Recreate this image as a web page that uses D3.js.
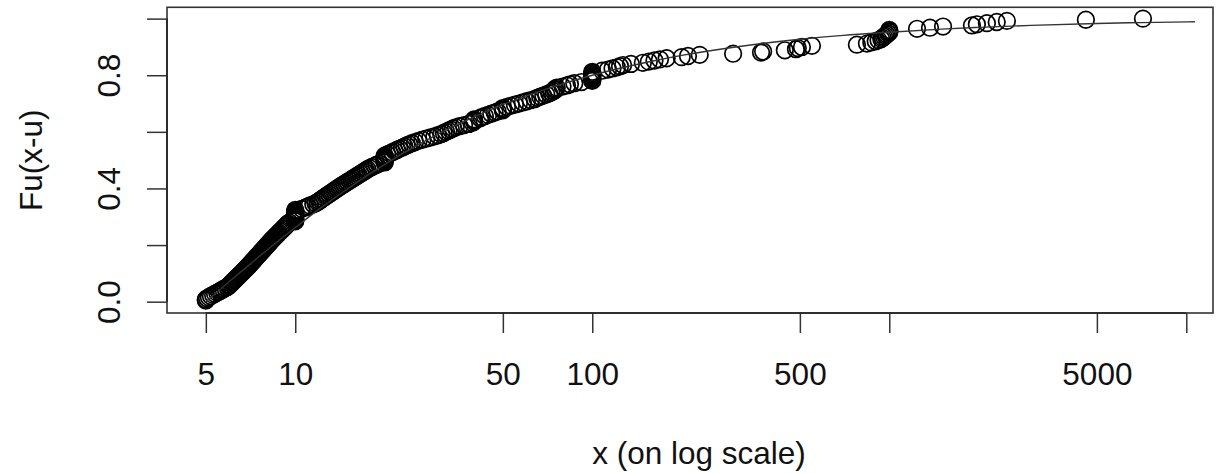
<!DOCTYPE html>
<html><head><meta charset="utf-8">
<script src="https://cdn.jsdelivr.net/npm/d3@7"></script>
<style>
body{margin:0;background:#fff}
svg{display:block}
text{font-family:"Liberation Sans",Arial,Helvetica,sans-serif;}
</style>
</head><body>
<svg id="chart" width="1231" height="473"></svg>
<script>
// empirical points: x values (original scale) and Fu(x-u)
const xValues = [
5,5,5.05,5.12,5.2,5.29,5.37,5.46,5.55,5.63,
5.72,5.81,5.91,5.97,6.02,6.08,6.13,6.18,6.24,6.29,
6.35,6.41,6.46,6.52,6.58,6.64,6.69,6.75,6.81,6.87,
6.93,6.99,7.04,7.1,7.15,7.21,7.27,7.33,7.38,7.44,
7.5,7.56,7.62,7.68,7.74,7.8,7.86,7.93,7.99,8.05,
8.12,8.18,8.24,8.31,8.37,8.45,8.52,8.6,8.67,8.75,
8.82,8.9,8.98,9.06,9.14,9.22,9.3,9.38,9.46,9.55,
10,10,10,10,10,10,10,10,10,10,
10,10.5,10.8,11,11.2,11.5,11.7,11.9,12.04,12.19,
12.35,12.51,12.67,12.83,13,13.17,13.34,13.51,13.68,13.86,
14.04,14.22,14.42,14.63,14.83,15.04,15.25,15.47,15.68,15.91,
16.13,16.36,16.59,16.82,17.06,17.3,17.5,17.8,18.1,18.5,
18.8,19.2,20,20,20,20,20,20,20,20.4,
20.8,21.2,21.6,22,22.4,22.9,23.3,23.7,24.2,24.7,
25.3,26,26.8,27.6,28.5,29.4,30.2,31,31.6,32.2,
32.8,33.4,34,34.7,35.7,37,38.4,39.5,40,40,
40,41.9,42.4,43.5,44.6,45.7,46.9,48,50,50,
50,51.6,53.2,54.9,56.6,58.4,60.2,62.1,64.1,65.3,
66.8,68.4,70,71.6,72.8,74,75,75,75.9,79.4,
82.2,84.1,87,92,100,100,100,100,100,100,
100,100,100,108,113,117,121,124,127,135,
148,155,162,169,178,200,210,230,298,370,
376,445,485,492,508,549,778,841,870,900,
920,940,950,960,970,980,990,1000,1000,1000,
1240,1371,1517,1898,1972,2131,2300,2489,4591,7146
];
const fValues = [
0.004,0.008,0.012,0.016,0.02,0.024,0.028,0.032,0.036,0.04,
0.044,0.048,0.052,0.056,0.06,0.064,0.068,0.072,0.076,0.08,
0.084,0.088,0.092,0.096,0.1,0.104,0.108,0.112,0.116,0.12,
0.124,0.128,0.132,0.136,0.14,0.144,0.148,0.152,0.156,0.16,
0.164,0.168,0.172,0.176,0.18,0.184,0.188,0.192,0.196,0.2,
0.204,0.208,0.212,0.216,0.22,0.224,0.228,0.232,0.236,0.24,
0.244,0.248,0.252,0.256,0.26,0.264,0.268,0.272,0.276,0.28,
0.284,0.288,0.292,0.296,0.3,0.304,0.308,0.312,0.316,0.32,
0.324,0.328,0.332,0.336,0.34,0.344,0.348,0.352,0.356,0.36,
0.364,0.368,0.372,0.376,0.38,0.384,0.388,0.392,0.396,0.4,
0.404,0.408,0.412,0.416,0.42,0.424,0.428,0.432,0.436,0.44,
0.444,0.448,0.452,0.456,0.46,0.464,0.468,0.472,0.476,0.48,
0.484,0.488,0.492,0.496,0.5,0.504,0.508,0.512,0.516,0.52,
0.524,0.528,0.532,0.536,0.54,0.544,0.548,0.552,0.556,0.56,
0.564,0.568,0.572,0.576,0.58,0.584,0.588,0.592,0.596,0.6,
0.604,0.608,0.612,0.616,0.62,0.624,0.628,0.632,0.636,0.64,
0.644,0.648,0.652,0.656,0.66,0.664,0.668,0.672,0.676,0.68,
0.684,0.688,0.692,0.696,0.7,0.704,0.708,0.712,0.716,0.72,
0.724,0.728,0.732,0.736,0.74,0.744,0.748,0.752,0.756,0.76,
0.764,0.768,0.772,0.776,0.78,0.784,0.788,0.792,0.796,0.8,
0.804,0.808,0.812,0.816,0.82,0.824,0.828,0.832,0.836,0.84,
0.844,0.848,0.852,0.856,0.86,0.864,0.868,0.872,0.876,0.88,
0.884,0.888,0.892,0.896,0.9,0.904,0.908,0.912,0.916,0.92,
0.924,0.928,0.932,0.936,0.94,0.944,0.948,0.952,0.956,0.96,
0.964,0.968,0.972,0.976,0.98,0.984,0.988,0.992,0.996,1
];
// fitted curve
const lineX = [5,5.5,6,6.5,7,8,9,10,12,15,20,25,30,40,50,70,100,150,200,300,500,700,1000,1500,2000,3000,5000,7000,10690];
const lineF = [0,0.037,0.071,0.102,0.13,0.181,0.224,0.262,0.326,0.399,0.485,0.545,0.59,0.653,0.696,0.751,0.8,0.844,0.87,0.899,0.927,0.941,0.952,0.963,0.969,0.976,0.983,0.986,0.989];

const xTickValues = [5,10,50,100,500,1000,5000,10000];
const xTickLabels = ["5","10","50","100","500","","5000",""];
const yTickValues = [0,0.2,0.4,0.6,0.8,1.0];
const yTickLabels = ["0.0","","0.4","","0.8",""];

const svg = d3.select("#chart");
const L = 167, R = 1213, T = 7.3, B = 313;
const FS = "31.5px";
const x = d3.scaleLog().domain([3.70, 12300]).range([L, R]);
const y = d3.scaleLinear().domain([-0.04, 1.04]).range([B, T]);

svg.append("defs").append("clipPath").attr("id","clip")
  .append("rect").attr("x",L).attr("y",T).attr("width",R-L).attr("height",B-T);

const points = xValues.map((v,i)=>({x:v, f:fValues[i]}));
svg.append("g").selectAll("circle").data(points).join("circle")
  .attr("cx", d=>x(d.x)).attr("cy", d=>y(d.f)).attr("r", 8.3)
  .attr("fill","none").attr("stroke","#000").attr("stroke-width",1.7);

const linePts = lineX.map((v,i)=>({x:v, f:lineF[i]}));
svg.append("path").datum(linePts)
  .attr("clip-path","url(#clip)")
  .attr("d", d3.line().x(d=>x(d.x)).y(d=>y(d.f)).curve(d3.curveMonotoneX))
  .attr("fill","none").attr("stroke","#333").attr("stroke-width",1.4);

// box
svg.append("rect").attr("x",L).attr("y",T).attr("width",R-L).attr("height",B-T)
  .attr("fill","none").attr("stroke","#333").attr("stroke-width",1.6);

// x axis
const gx = svg.append("g").attr("transform",`translate(0,${B})`)
  .call(d3.axisBottom(x).tickValues(xTickValues).tickFormat((d,i)=>xTickLabels[i]).tickSize(20));
gx.attr("font-size",null).attr("font-family",null);
gx.select(".domain").remove();
gx.selectAll(".tick line").attr("stroke","#333").attr("stroke-width",1.5);
gx.selectAll(".tick text").attr("y",72).attr("dy",null).attr("font-size",FS).attr("fill","#111");
svg.append("line").attr("x1",x(5)).attr("x2",x(10000)).attr("y1",B).attr("y2",B)
  .attr("stroke","#222").attr("stroke-width",1.6);

// y axis
const gy = svg.append("g").attr("transform",`translate(${L},0)`)
  .call(d3.axisLeft(y).tickValues(yTickValues).tickFormat((d,i)=>yTickLabels[i]).tickSize(20));
gy.attr("font-size",null).attr("font-family",null);
gy.select(".domain").remove();
gy.selectAll(".tick line").attr("stroke","#333").attr("stroke-width",1.5);
gy.selectAll(".tick text").attr("x",null).attr("dy",null).attr("text-anchor","middle")
  .attr("transform","translate(-47,0) rotate(-90)").attr("font-size",FS).attr("fill","#111");
svg.append("line").attr("x1",L).attr("x2",L).attr("y1",y(0)).attr("y2",y(1))
  .attr("stroke","#222").attr("stroke-width",1.6);

// axis titles
svg.append("text").attr("x",699).attr("y",464).attr("text-anchor","middle")
  .attr("font-size",FS).attr("fill","#111").text("x (on log scale)");
svg.append("text").attr("transform",`translate(42,${(T+B)/2}) rotate(-90)`).attr("text-anchor","middle")
  .attr("font-size",FS).attr("fill","#111").text("Fu(x-u)");
</script>
</body></html>
